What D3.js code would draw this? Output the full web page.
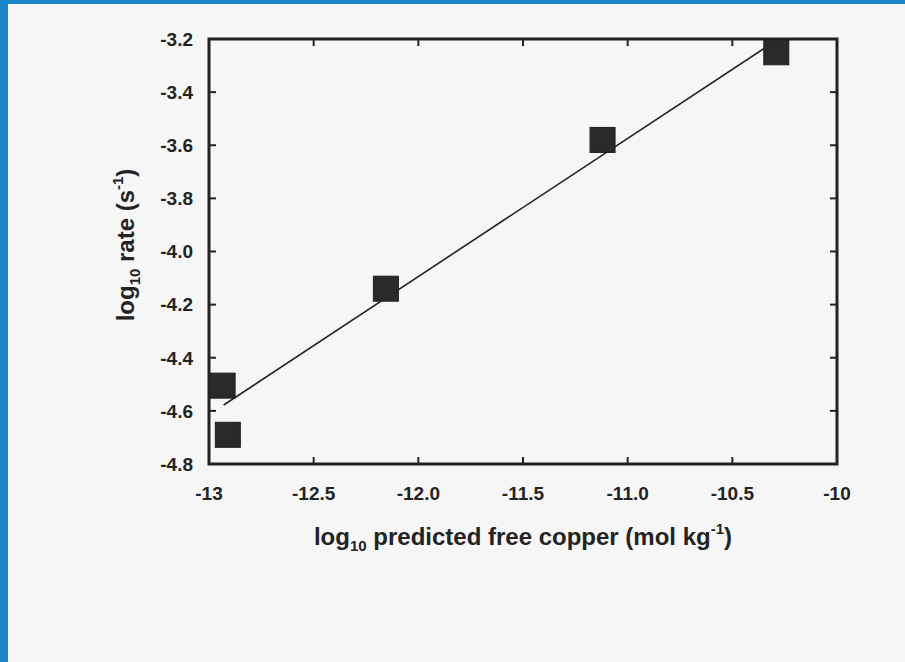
<!DOCTYPE html>
<html>
<head>
<meta charset="utf-8">
<script src="https://cdn.jsdelivr.net/npm/d3@7"></script>
<style>
  html, body { margin: 0; padding: 0; background: #1a84c6; }
  svg { display: block; font-family: Arial, "Liberation Sans", sans-serif; font-weight: bold; }
</style>
</head>
<body>
<svg id="chart" width="905" height="662"></svg>
<script>
// measured points
const xValues = [-10.29, -11.12, -12.155, -12.935, -12.91]
const yValues = [-3.25, -3.58, -4.14, -4.505, -4.69]
// fitted line endpoints
const fitX = [-12.93, -10.29]
const fitY = [-4.578, -3.205]
const xTicks = [-13, -12.5, -12, -11.5, -11, -10.5, -10]
const xTickLabels = ["-13", "-12.5", "-12.0", "-11.5", "-11.0", "-10.5", "-10"]
const yTicks = [-3.2, -3.4, -3.6, -3.8, -4.0, -4.2, -4.4, -4.6, -4.8]

const svg = d3.select("#chart")
svg.append("rect")
  .attr("x", 8).attr("y", 4).attr("width", 897).attr("height", 658)
  .attr("fill", "#f6f6f6")

const pLeft = 209, pRight = 837, pTop = 39, pBottom = 464
const x = d3.scaleLinear().domain([-13, -10]).range([pLeft, pRight])
const y = d3.scaleLinear().domain([-4.8, -3.2]).range([pBottom, pTop])
const ink = "#232323"

// ticks (inward, on all four sides)
const tickLen = 7
const tk = svg.append("g").attr("stroke", ink).attr("stroke-width", 2)
xTicks.slice(1, -1).forEach(t => {
  tk.append("line").attr("x1", x(t)).attr("x2", x(t)).attr("y1", pBottom).attr("y2", pBottom - tickLen)
  tk.append("line").attr("x1", x(t)).attr("x2", x(t)).attr("y1", pTop).attr("y2", pTop + tickLen)
})
yTicks.slice(1, -1).forEach(t => {
  tk.append("line").attr("x1", pLeft).attr("x2", pLeft + tickLen).attr("y1", y(t)).attr("y2", y(t))
  tk.append("line").attr("x1", pRight).attr("x2", pRight - tickLen).attr("y1", y(t)).attr("y2", y(t))
})

// frame
svg.append("rect")
  .attr("x", pLeft).attr("y", pTop).attr("width", pRight - pLeft).attr("height", pBottom - pTop)
  .attr("fill", "none").attr("stroke", ink).attr("stroke-width", 3)

// tick labels
svg.append("g").selectAll("text")
  .data(xTicks)
  .enter()
  .append("text")
  .attr("x", d => x(d))
  .attr("y", 500)
  .attr("text-anchor", "middle")
  .attr("font-size", 19)
  .attr("fill", ink)
  .text((d, i) => xTickLabels[i])

svg.append("g").selectAll("text")
  .data(yTicks)
  .enter()
  .append("text")
  .attr("x", 193)
  .attr("y", d => y(d))
  .attr("dy", "0.36em")
  .attr("text-anchor", "end")
  .attr("font-size", 19)
  .attr("fill", ink)
  .text(d => d.toFixed(1))

// fit line
svg.append("line")
  .attr("x1", x(fitX[0])).attr("y1", y(fitY[0]))
  .attr("x2", x(fitX[1])).attr("y2", y(fitY[1]))
  .attr("stroke", ink).attr("stroke-width", 1.6)

// squares
const size = 25
svg.append("g").selectAll("rect")
  .data(xValues.map((v, i) => [v, yValues[i]]))
  .enter()
  .append("rect")
  .attr("x", d => x(d[0]) - size / 2)
  .attr("y", d => y(d[1]) - size / 2)
  .attr("width", size).attr("height", size)
  .attr("fill", "#2a2a2a")
  .attr("stroke", "#1e1e1e").attr("stroke-width", 1)

// axis titles
const xTitle = svg.append("text")
  .attr("x", 523).attr("y", 545)
  .attr("text-anchor", "middle")
  .attr("font-size", 24)
  .attr("fill", ink)
xTitle.append("tspan").text("log")
xTitle.append("tspan").attr("font-size", 15).attr("dy", 6).text("10")
xTitle.append("tspan").attr("dy", -6).text(" predicted free copper (mol kg")
xTitle.append("tspan").attr("font-size", 15).attr("dy", -11).text("-1")
xTitle.append("tspan").attr("dy", 11).text(")")

const yTitle = svg.append("text")
  .attr("transform", "translate(134,245) rotate(-90)")
  .attr("text-anchor", "middle")
  .attr("font-size", 24)
  .attr("fill", ink)
yTitle.append("tspan").text("log")
yTitle.append("tspan").attr("font-size", 15).attr("dy", 6).text("10")
yTitle.append("tspan").attr("dy", -6).text(" rate (s")
yTitle.append("tspan").attr("font-size", 15).attr("dy", -11).text("-1")
yTitle.append("tspan").attr("dy", 11).text(")")
</script>
</body>
</html>
